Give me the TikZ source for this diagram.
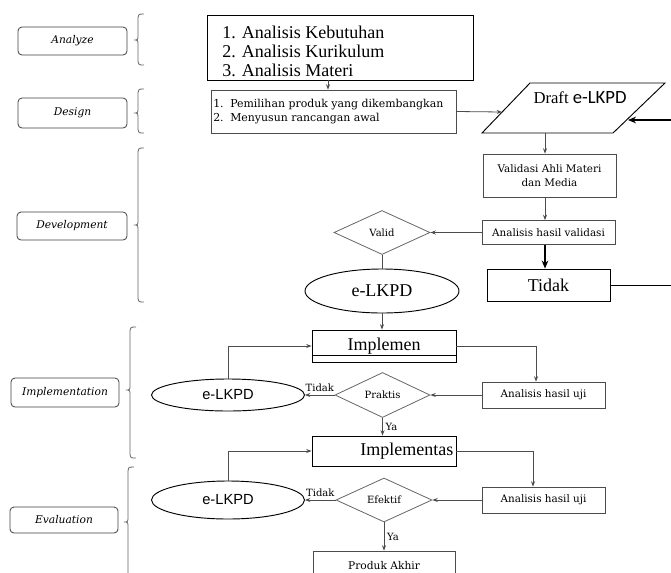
\documentclass[tikz,border=0pt]{standalone}
\usepackage{fontspec}
\setmainfont{Liberation Serif}
\newfontfamily\dvs{DejaVu Serif}
\newfontfamily\crl{Carlito}
\newfontfamily\lsans{Liberation Sans}
\usetikzlibrary{shapes.geometric,arrows.meta,calc}
\newcommand\mybrace[4]{\draw[brc] (#1+6,#2) .. controls (#1,#2) .. (#1,#2+8) -- (#1,#3-6) .. controls (#1,#3) .. (#1-4,#3) .. controls (#1,#3) .. (#1,#3+6) -- (#1,#4-8) .. controls (#1,#4) .. (#1+6,#4);}
\begin{document}
\begin{tikzpicture}[x=0.75pt,y=-0.75pt,
 lbl/.style={draw=black!75, line width=0.6pt, rounded corners=3pt, font=\dvs\itshape\fontsize{8}{9}\selectfont, minimum width=81.75pt, inner sep=0pt},
 sbox/.style={draw=black!70, line width=0.6pt, inner sep=0pt, font=\dvs\fontsize{7.8}{10}\selectfont, align=center},
 bbox/.style={draw=black, line width=0.7pt, inner sep=0pt},
 dia/.style={diamond, aspect=2.2, draw=black!60, line width=0.6pt, inner sep=0pt, font=\dvs\fontsize{7.5}{9}\selectfont},
 ell/.style={ellipse, draw=black, line width=0.7pt, inner sep=0pt},
 con/.style={draw=black!70, line width=0.6pt},
 arr/.style={con, -{Stealth[length=4pt,width=3pt]}},
 thk/.style={draw=black, line width=1.3pt, -{Stealth[length=6pt,width=5pt]}},
 brc/.style={draw=black!60, line width=0.6pt},
 tag/.style={font=\dvs\fontsize{7.5}{9}\selectfont, inner sep=0pt},
 big/.style={font=\fontsize{13.5}{14.25}\selectfont}
]
\useasboundingbox (0,0) rectangle (671,572);
\clip (0,0) rectangle (671,572);
\fill[white] (0,0) rectangle (671,572);

% phase labels
\node[lbl, minimum height=21pt] (anlz) at (72.5,41) {Analyze};
\node[lbl, minimum height=22.5pt] (dsgn) at (72.5,113) {Design};
\node[lbl, minimum width=82.5pt, minimum height=21pt] (devl) at (72,226) {Development};
\node[lbl, minimum width=81pt, minimum height=21.75pt] (impl) at (65,392.5) {Implementation};
\node[lbl, minimum width=81pt, minimum height=19.5pt] (eval) at (64,520) {Evaluation};

% braces
\mybrace{138}{14}{40}{65}
\mybrace{138}{89}{113}{133}
\mybrace{138}{148}{225}{302}
\mybrace{130}{327}{390}{458}
\mybrace{128}{467}{522}{600}

% analyze box
\node[bbox, minimum width=199.5pt, minimum height=48.75pt] (anbox) at (340,47.5) {};
\node[big, anchor=base west, inner sep=0pt] (an1) at (222,38) {1. Analisis Kebutuhan};
\node[big, anchor=base west, inner sep=0pt] (an2) at (222,57) {2. Analisis Kurikulum};
\node[big, anchor=base west, inner sep=0pt] (an3) at (222,76) {3. Analisis Materi};

% design box
\node[sbox, minimum width=183.75pt, minimum height=32.25pt] (dsbox) at (333.5,111.5) {};
\node[anchor=west, align=left, inner sep=0pt, font=\dvs\fontsize{8.2}{11}\selectfont] (dstext) at (213,111.5) {\makebox[12.75pt][l]{1.}Pemilihan produk yang dikembangkan\\\makebox[12.75pt][l]{2.}Menyusun rancangan awal};
\coordinate (a1) at (328,80);
\draw[arr] (a1) -- (a1 |- dsbox.north);

% draft
\draw[draw=black, line width=0.7pt] (530,83) -- (665,83) -- (613,133) -- (482,133) -- cycle;
\node[inner sep=0pt] (draft) at (580,98) {\fontsize{12.5}{13}\selectfont Draft {\crl\fontsize{14}{14}\selectfont e-LKPD}};
\coordinate (dl) at (502,112);
\coordinate (dr) at (628,120);
\coordinate (db) at (545,133);
\draw[arr] (dsbox.east) -- (dl);
\coordinate (e1) at (671,120);
\draw[thk] (e1) -- (dr);

% development
\node[sbox, minimum width=99.75pt, minimum height=32.25pt] (vld) at (549.5,175.5) {Validasi Ahli Materi\\dan Media};
\draw[arr] (db) -- (db |- vld.north);
\node[sbox, minimum width=99.75pt, minimum height=18pt] (ahv) at (548.5,232.5) {Analisis hasil validasi};
\draw[arr] (vld.south -| db) -- (ahv.north -| db);
\node[dia, minimum width=72pt, minimum height=33pt] (vali) at (382,232.5) {Valid};
\draw[arr] (ahv.west) -- (vali.east);
\node[bbox, minimum width=92.25pt, minimum height=24pt, big] (tdk) at (548.5,285) {Tidak\hspace{16pt}};
\draw[thk] (ahv.south -| db) -- (tdk.north -| db);
\coordinate (e2) at (671,285);
\draw[draw=black, line width=0.7pt] (tdk.east) -- (e2);
\node[ell, minimum width=115.5pt, minimum height=33pt, big] (el1) at (382,291) {e-LKPD};
\draw[con] (vali.south) -- (el1.north);

% implementation
\node[bbox, minimum width=108pt, minimum height=24pt, big] (imp) at (384,346) {Implemen};
\draw[draw=black, line width=0.5pt] ($(imp.south west)+(0,-7)$) -- ($(imp.south east)+(0,-7)$);
\draw[arr] (el1.south) -- (el1.south |- imp.north);
\node[sbox, minimum width=92.25pt, minimum height=19.5pt] (ahu1) at (543.5,395) {Analisis hasil uji};
\draw[arr] (imp.east) -| ($(ahu1.north)+(-7.5,0)$);
\node[dia, minimum width=71.25pt, minimum height=33.75pt] (prak) at (382.5,395) {Praktis};
\draw[arr] (ahu1.west) -- (prak.east);
\node[ell, minimum width=114.75pt, minimum height=24pt, font=\lsans\fontsize{11}{12}\selectfont] (el2) at (228,395) {e-LKPD\hspace{25pt}};
\draw[arr] (prak.west) -- (el2.east) node[tag, midway, above=2pt] (t1) {Tidak};
\draw[arr] (el2.north) |- (imp.west);
\node[bbox, minimum width=108pt, minimum height=22.5pt, big, text width=104pt, align=right] (impt) at (384,451) {Implementas};
\draw[arr] (prak.south) -- (prak.south |- impt.north) node[tag, midway, right=2pt] (y1) {Ya};

% evaluation
\node[sbox, minimum width=92.25pt, minimum height=19.5pt] (ahu2) at (543.5,500) {Analisis hasil uji};
\draw[arr] (impt.east) -| ($(ahu2.north)+(-10.5,0)$);
\node[dia, minimum width=72pt, minimum height=33pt] (efk) at (384,500) {Efektif};
\draw[arr] (ahu2.west) -- (efk.east);
\node[ell, minimum width=114.75pt, minimum height=28.5pt, font=\lsans\fontsize{11}{12}\selectfont] (el3) at (228,500) {e-LKPD\hspace{25pt}};
\draw[arr] (efk.west) -- (el3.east) node[tag, midway, above=2pt] (t2) {Tidak};
\draw[arr] (el3.north) |- (impt.west);
\node[sbox, minimum width=106.5pt, minimum height=22.5pt, font=\dvs\fontsize{8}{9}\selectfont] (prod) at (384,566) {Produk Akhir};
\draw[arr] (efk.south) -- (efk.south |- prod.north) node[tag, midway, right=2pt] (y2) {Ya};
\end{tikzpicture}
\end{document}
